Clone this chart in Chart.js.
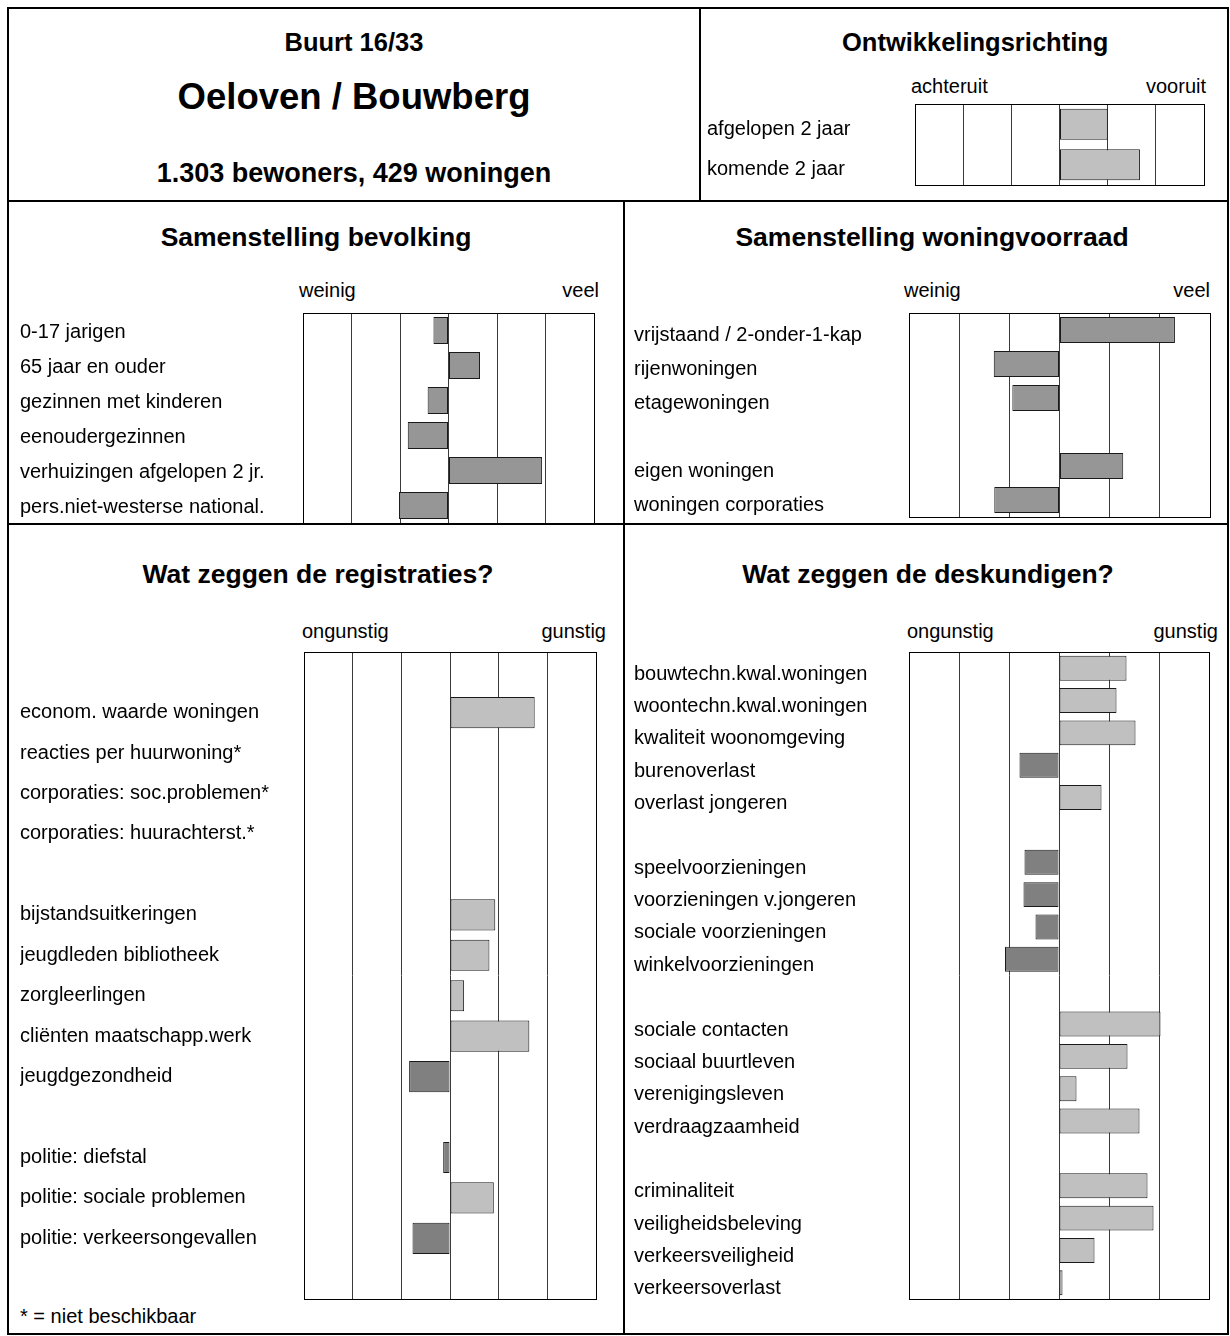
<!DOCTYPE html>
<html>
<head>
<meta charset="utf-8">
<title>Buurt 16/33 Oeloven / Bouwberg</title>
<script src="https://cdn.jsdelivr.net/npm/chart.js@4.4.1/dist/chart.umd.min.js"></script>
<style>
  body { margin: 0; background: #fff; font-family: 'Liberation Sans', Arial, sans-serif; color: #000; }
  #page { position: relative; width: 1230px; height: 1336px; overflow: hidden; }
  .ln { position: absolute; background: #000; }
  .t { position: absolute; white-space: nowrap; line-height: 1; font-size: 20px; }
  .b { font-weight: bold; }
  .c { text-align: center; }
  .r { text-align: right; }
  canvas { position: absolute; }
</style>
</head>
<body>
<div id="page">
  <!-- frame and panel dividers -->
  <div class="ln" style="left:7px;top:7px;width:1222px;height:2px"></div>
  <div class="ln" style="left:7px;top:1333px;width:1222px;height:2px"></div>
  <div class="ln" style="left:7px;top:7px;width:2px;height:1328px"></div>
  <div class="ln" style="left:1227px;top:7px;width:2px;height:1328px"></div>
  <div class="ln" style="left:7px;top:200px;width:1222px;height:2px"></div>
  <div class="ln" style="left:7px;top:523px;width:1222px;height:2px"></div>
  <div class="ln" style="left:699px;top:7px;width:2px;height:195px"></div>
  <div class="ln" style="left:623px;top:200px;width:2px;height:1135px"></div>

  <!-- header -->
  <div class="t b c" style="left:8px;width:692px;top:30px;font-size:25.5px">Buurt 16/33</div>
  <div class="t b c" style="left:8px;width:692px;top:79px;font-size:36.5px">Oeloven / Bouwberg</div>
  <div class="t b c" style="left:8px;width:692px;top:160px;font-size:27px">1.303 bewoners, 429 woningen</div>

  <div class="t b" style="left:842px;top:30px;font-size:25.5px">Ontwikkelingsrichting</div>
  <div class="t" style="left:911px;top:76px">achteruit</div>
  <div class="t r" style="left:1006px;width:200px;top:76px">vooruit</div>

  <div class="t b c" style="left:8px;width:616px;top:224px;font-size:26.5px">Samenstelling bevolking</div>
  <div class="t" style="left:299px;top:280px">weinig</div>
  <div class="t r" style="left:399px;width:200px;top:280px">veel</div>

  <div class="t b c" style="left:632px;width:600px;top:224px;font-size:26.5px">Samenstelling woningvoorraad</div>
  <div class="t" style="left:904px;top:280px">weinig</div>
  <div class="t r" style="left:1010px;width:200px;top:280px">veel</div>

  <div class="t b c" style="left:18px;width:600px;top:561px;font-size:26.5px">Wat zeggen de registraties?</div>
  <div class="t" style="left:302px;top:621px">ongunstig</div>
  <div class="t r" style="left:406px;width:200px;top:621px">gunstig</div>

  <div class="t b c" style="left:628px;width:600px;top:561px;font-size:26.5px">Wat zeggen de deskundigen?</div>
  <div class="t" style="left:907px;top:621px">ongunstig</div>
  <div class="t r" style="left:1018px;width:200px;top:621px">gunstig</div>

  <div class="t" style="left:20px;top:1306px">* = niet beschikbaar</div>

  <canvas id="ontw" width="498" height="83" style="left:707px;top:103px"></canvas>
  <canvas id="bevolking" width="575" height="212" style="left:20px;top:312px"></canvas>
  <canvas id="woning" width="577" height="206" style="left:634px;top:312px"></canvas>
  <canvas id="registraties" width="577" height="649" style="left:20px;top:651px"></canvas>
  <canvas id="deskundigen" width="576" height="649" style="left:634px;top:651px"></canvas>
</div>

<script>
// Ontwikkelingsrichting (achteruit -3 .. vooruit +3)
var ontwLabels = ['afgelopen 2 jaar', 'komende 2 jaar'];
var ontwValues = [1.0, 1.67];

// Samenstelling bevolking (weinig -3 .. veel +3)
var bevolkingLabels = ['0-17 jarigen', '65 jaar en ouder', 'gezinnen met kinderen',
  'eenoudergezinnen', 'verhuizingen afgelopen 2 jr.', 'pers.niet-westerse national.'];
var bevolkingValues = [-0.31, 0.65, -0.43, -0.84, 1.93, -1.02];

// Samenstelling woningvoorraad
var woningLabels = ['vrijstaand / 2-onder-1-kap', 'rijenwoningen', 'etagewoningen', '',
  'eigen woningen', 'woningen corporaties'];
var woningValues = [2.30, -1.31, -0.94, null, 1.27, -1.30];

// Wat zeggen de registraties? (ongunstig -3 .. gunstig +3), '' = lege regel
var registratieLabels = ['', 'econom. waarde woningen', 'reacties per huurwoning*',
  'corporaties: soc.problemen*', 'corporaties: huurachterst.*', '',
  'bijstandsuitkeringen', 'jeugdleden bibliotheek', 'zorgleerlingen',
  'cliënten maatschapp.werk', 'jeugdgezondheid', '',
  'politie: diefstal', 'politie: sociale problemen', 'politie: verkeersongevallen', ''];
var registratieValues = [null, 1.74, null, null, null, null,
  0.93, 0.81, 0.29, 1.63, -0.84, null,
  -0.14, 0.90, -0.77, null];

// Wat zeggen de deskundigen?
var deskundigenLabels = ['bouwtechn.kwal.woningen', 'woontechn.kwal.woningen',
  'kwaliteit woonomgeving', 'burenoverlast', 'overlast jongeren', '',
  'speelvoorzieningen', 'voorzieningen v.jongeren', 'sociale voorzieningen',
  'winkelvoorzieningen', '',
  'sociale contacten', 'sociaal buurtleven', 'verenigingsleven', 'verdraagzaamheid', '',
  'criminaliteit', 'veiligheidsbeleving', 'verkeersveiligheid', 'verkeersoverlast'];
var deskundigenValues = [1.35, 1.15, 1.53, -0.79, 0.85, null,
  -0.69, -0.71, -0.47, -1.08, null,
  2.03, 1.37, 0.35, 1.61, null,
  1.77, 1.89, 0.71, 0.07];

Chart.defaults.font.family = "'Liberation Sans', Arial, sans-serif";
Chart.defaults.font.size = 20;
Chart.defaults.color = '#000';

var LIGHT = '#c0c0c0', DARK = '#808080', MID = '#969696';

// box around the plot area
var frame = {
  id: 'frame',
  afterDraw: function (chart) {
    var a = chart.chartArea, c = chart.ctx;
    c.save();
    c.strokeStyle = '#000';
    c.lineWidth = 1;
    c.strokeRect(Math.round(a.left) + 0.5, Math.round(a.top) + 0.5,
      Math.round(a.right - a.left), Math.round(a.bottom - a.top));
    c.restore();
  }
};

function signColor(ctx) {
  var v = ctx.raw;
  return v < 0 ? DARK : LIGHT;
}

function barChart(id, labels, values, color, axisWidth, labelShift) {
  var ctx = document.getElementById(id).getContext('2d');
  return new Chart(ctx, {
    type: 'bar',
    data: {
      labels: labels,
      datasets: [{
        data: values,
        backgroundColor: color,
        borderColor: '#1a1a1a',
        borderWidth: 1,
        borderSkipped: false,
        barPercentage: 0.77,
        categoryPercentage: 1
      }]
    },
    options: {
      indexAxis: 'y',
      responsive: false,
      animation: false,
      layout: { padding: { top: 1, bottom: 1, left: 0, right: 1 } },
      plugins: { legend: { display: false }, tooltip: { enabled: false } },
      scales: {
        x: {
          min: -3, max: 3,
          ticks: { display: false, stepSize: 1 },
          grid: { color: '#3a3a3a', lineWidth: 1, drawTicks: false },
          border: { display: false },
          afterFit: function (s) { s.height = 0; }
        },
        y: {
          grid: { display: false },
          border: { display: false },
          ticks: { crossAlign: 'far', autoSkip: false, padding: 0, labelOffset: labelShift },
          afterFit: function (s) {
            s.width = axisWidth;
            // no extra room for half labels at the ends, the plot fills the box
            s.paddingTop = 0;
            s.paddingBottom = 0;
          }
        }
      }
    },
    plugins: [frame]
  });
}

barChart('ontw', ontwLabels, ontwValues, LIGHT, 208, 5);
barChart('bevolking', bevolkingLabels, bevolkingValues, MID, 283, 2);
barChart('woning', woningLabels, woningValues, MID, 275, 5);
barChart('registraties', registratieLabels, registratieValues, signColor, 284, 0);
barChart('deskundigen', deskundigenLabels, deskundigenValues, signColor, 275, 6);
</script>
</body>
</html>
